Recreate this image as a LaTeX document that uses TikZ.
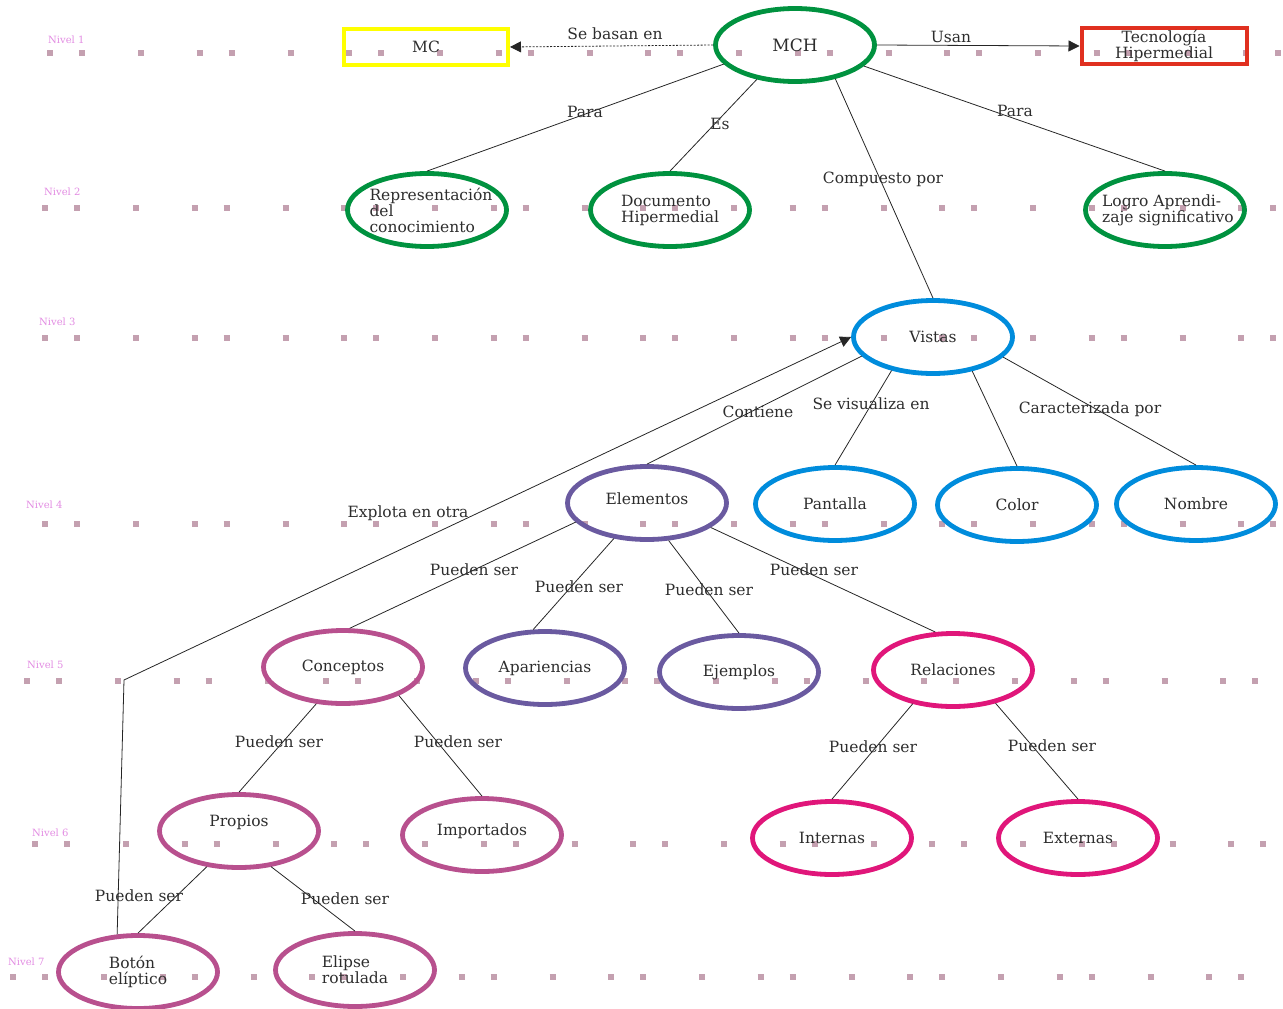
\documentclass[tikz,border=0pt]{standalone}
\usepackage{fontspec}
\setmainfont{DejaVu Serif}
\usetikzlibrary{shapes.geometric,arrows.meta}
\definecolor{cgreen}{RGB}{0,146,63}
\definecolor{cblue}{RGB}{0,140,220}
\definecolor{cpurple}{RGB}{106,90,160}
\definecolor{cpink}{RGB}{184,80,142}
\definecolor{cmag}{RGB}{224,22,122}
\definecolor{cyel}{RGB}{255,255,0}
\definecolor{cred}{RGB}{224,48,32}
\definecolor{txt}{RGB}{45,45,45}
\definecolor{lvlc}{RGB}{226,140,226}
\definecolor{dotc}{RGB}{196,160,176}
\tikzset{
  ell/.style={ellipse, draw, line width=4.8pt, minimum width=159pt, minimum height=73pt,
    inner sep=0pt, align=left, font=\fontsize{15.5}{16}\selectfont, text=txt},
  boxnode/.style={rectangle, draw, line width=4pt, minimum width=164pt, minimum height=36pt,
    inner sep=0pt, align=center, font=\fontsize{15.5}{16}\selectfont, text=txt},
  lbl/.style={font=\fontsize{15.5}{16}\selectfont, text=txt, inner sep=1pt},
  lvl/.style={font=\fontsize{10}{10}\selectfont, text=lvlc, anchor=west, inner sep=0pt},
  dotrow/.style={draw=dotc, line width=6pt, line cap=butt,
    dash pattern=on 6pt off 26pt on 6pt off 53pt on 6pt off 52.5pt},
  conn/.style={draw=black!85, line width=0.8pt},
  tip/.style={-{Triangle[length=11pt,width=11pt]}}
}
\begin{document}
\begin{tikzpicture}[x=1pt,y=-1pt]
\useasboundingbox (0,0) rectangle (1283,1009);
% level rows
\node[lvl] (l1) at (48,40) {Nivel 1};
\node[lvl] (l2) at (44,192) {Nivel 2};
\node[lvl] (l3) at (39,322) {Nivel 3};
\node[lvl] (l4) at (26,505) {Nivel 4};
\node[lvl] (l5) at (27,665) {Nivel 5};
\node[lvl] (l6) at (32,833) {Nivel 6};
\node[lvl] (l7) at (8,962) {Nivel 7};
\draw[dotrow] (47,53) -- (1283,53);
\draw[dotrow] (42,208) -- (1283,208);
\draw[dotrow] (42,338) -- (1283,338);
\draw[dotrow] (42,524) -- (1283,524);
\draw[dotrow] (24,681) -- (1283,681);
\draw[dotrow] (32,844) -- (1283,844);
\draw[dotrow] (10,977) -- (1283,977);
% nodes
\node[boxnode, draw=cyel] (mc) at (426,47) {MC};
\node[ell, draw=cgreen, font=\fontsize{17}{17}\selectfont] (mch) at (795,45) {MCH};
\node[boxnode, draw=cred, minimum width=165pt] (tec) at (1164,46) {Tecnología\\Hipermedial};
\node[ell, draw=cgreen, inner xsep=-20pt] (rep) at (427,210) {\hspace*{8pt}Representación\\\hspace*{8pt}del\\\hspace*{8pt}conocimiento};
\node[ell, draw=cgreen] (doc) at (670,210) {Documento\\Hipermedial};
\node[ell, draw=cgreen, inner xsep=-20pt] (log) at (1165,210) {\hspace*{6pt}Logro Aprendi-\\\hspace*{6pt}zaje significativo};
\node[ell, draw=cblue] (vis) at (933,337) {Vistas};
\node[ell, draw=cpurple] (ele) at (647,503) {\raisebox{-1pt}[0pt][0pt]{Elementos}};
\node[ell, draw=cblue] (pan) at (835,504) {Pantalla};
\node[ell, draw=cblue] (col) at (1017,505) {Color};
\node[ell, draw=cblue] (nom) at (1196,504) {Nombre};
\node[ell, draw=cpink] (con) at (343,667) {Conceptos};
\node[ell, draw=cpurple] (apa) at (545,668) {Apariencias};
\node[ell, draw=cpurple] (eje) at (739,672) {Ejemplos};
\node[ell, draw=cmag] (rel) at (953,670) {Relaciones};
\node[ell, draw=cpink] (pro) at (239,831) {\raisebox{5pt}[0pt][0pt]{Propios}};
\node[ell, draw=cpink] (imp) at (482,835) {\raisebox{0pt}[0pt][0pt]{Importados}};
\node[ell, draw=cmag] (int) at (832,838) {Internas};
\node[ell, draw=cmag] (ext) at (1078,838) {Externas};
\node[ell, draw=cpink] (bot) at (138,972) {Botón\\elíptico};
\node[ell, draw=cpink] (eli) at (355,970) {Elipse\\rotulada};
% connectors
\draw[conn, tip, dash pattern=on 2pt off 1.5pt] (mch.west) -- (mc.east);
\draw[conn, tip] (mch.east) -- (tec.west);
\draw[conn] (mch.195) -- (rep.north);
\draw[conn] (mch.222) -- (doc.north);
\draw[conn] (mch.320) -- (vis.north);
\draw[conn] (mch.343) -- (log.north);
\draw[conn] (vis.195) -- (ele.north);
\draw[conn] (vis.219) -- (pan.north);
\draw[conn] (vis.319) -- (col.north);
\draw[conn] (vis.344) -- (nom.north);
\draw[conn] (ele.195) -- (con.80);
\draw[conn] (ele.227) -- (apa.107);
\draw[conn] (ele.300) -- (eje.north);
\draw[conn] (ele.339) -- (rel.115);
\draw[conn] (con.234) -- (pro.north);
\draw[conn] (con.333) -- (imp.north);
\draw[conn] (rel.220) -- (int.north);
\draw[conn] (rel.322) -- (ext.north);
\draw[conn] (pro.228) -- (bot.north);
\draw[conn] (pro.312) -- (eli.north);
\coordinate (bend) at (124,680);
\draw[conn, tip] (bot.119) -- (bend) -- (vis.west);
% connector labels
\node[lbl] (t1) at (615,34) {Se basan en};
\node[lbl] (t2) at (951,37) {Usan};
\node[lbl] (t3) at (585,112) {Para};
\node[lbl] (t4) at (720,124) {Es};
\node[lbl] (t5) at (883,179) {Compuesto por};
\node[lbl] (t6) at (1015,111) {Para};
\node[lbl] (t7) at (758,412) {Contiene};
\node[lbl] (t8) at (871,404) {Se visualiza en};
\node[lbl] (t9) at (1090,409) {Caracterizada por};
\node[lbl] (t10) at (408,513) {Explota en otra};
\node[lbl] (t11) at (474,570) {Pueden ser};
\node[lbl] (t12) at (579,587) {Pueden ser};
\node[lbl] (t13) at (709,590) {Pueden ser};
\node[lbl] (t14) at (814,570) {Pueden ser};
\node[lbl] (t15) at (279,742) {Pueden ser};
\node[lbl] (t16) at (458,742) {Pueden ser};
\node[lbl] (t17) at (873,747) {Pueden ser};
\node[lbl] (t18) at (1052,746) {Pueden ser};
\node[lbl] (t19) at (139,896) {Pueden ser};
\node[lbl] (t20) at (345,899) {Pueden ser};
\end{tikzpicture}
\end{document}
